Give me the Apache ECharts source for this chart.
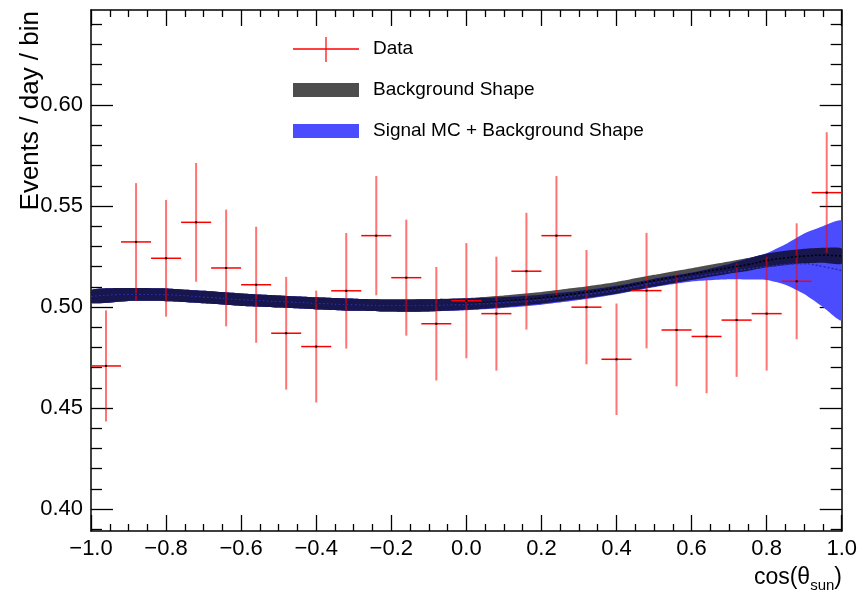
<!DOCTYPE html>
<html>
<head>
<meta charset="utf-8">
<script src="https://cdn.jsdelivr.net/npm/echarts@6/dist/echarts.min.js"></script>
<style>
html, body { margin: 0; padding: 0; background: #fff; }
#chart { width: 860px; height: 590px; }
</style>
</head>
<body>
<div id="chart"></div>
<script>
// data points (rate per bin) with stat errors
var binCenters = [-0.96, -0.88, -0.80, -0.72, -0.64, -0.56, -0.48, -0.40, -0.32, -0.24, -0.16, -0.08, 0.00,
                  0.08, 0.16, 0.24, 0.32, 0.40, 0.48, 0.56, 0.64, 0.72, 0.80, 0.88, 0.96];
var binHalfWidth = 0.04;
var dataRate = [0.4708, 0.5322, 0.5241, 0.5419, 0.5193, 0.5110, 0.4870, 0.4804, 0.5080, 0.5353, 0.5145, 0.4917, 0.5031,
                0.4967, 0.5177, 0.5353, 0.4999, 0.4741, 0.5081, 0.4886, 0.4854, 0.4935, 0.4967, 0.5127, 0.5566];
var dataErr = [0.0275, 0.0291, 0.0289, 0.0294, 0.0289, 0.0287, 0.0279, 0.0277, 0.0286, 0.0295, 0.0287, 0.0281, 0.0285,
               0.0282, 0.0289, 0.0295, 0.0283, 0.0276, 0.0286, 0.0279, 0.0281, 0.0281, 0.0282, 0.0287, 0.0299];

// shape bands (central value and half width)
var shapeX    = [-1.0, -0.9, -0.8, -0.7, -0.6, -0.5, -0.4, -0.3, -0.2, -0.1, 0.0, 0.1, 0.2, 0.3, 0.4, 0.5, 0.6, 0.7, 0.75, 0.8, 0.85, 0.9, 0.95, 1.0];
var bgCenter  = [0.5052, 0.5062, 0.5060, 0.5049, 0.5036, 0.5027, 0.5018, 0.5011, 0.5007, 0.5008, 0.5015, 0.5028, 0.5045, 0.5068, 0.5095, 0.5130, 0.5163, 0.5195, 0.5210, 0.5230, 0.5243, 0.5252, 0.5256, 0.5252];
var bgErr     = [0.0032, 0.0032, 0.0032, 0.0031, 0.0031, 0.0030, 0.0030, 0.0030, 0.0030, 0.0030, 0.0029, 0.0029, 0.0029, 0.0029, 0.0029, 0.0029, 0.0029, 0.0030, 0.0032, 0.0034, 0.0035, 0.0036, 0.0037, 0.0038];
var sigCenter = [0.5052, 0.5062, 0.5060, 0.5049, 0.5036, 0.5027, 0.5018, 0.5011, 0.5007, 0.5008, 0.5013, 0.5022, 0.5036, 0.5057, 0.5084, 0.5119, 0.5148, 0.5175, 0.5188, 0.5200, 0.5210, 0.5214, 0.5200, 0.5180];
var sigErr    = [0.0032, 0.0032, 0.0032, 0.0031, 0.0031, 0.0030, 0.0030, 0.0030, 0.0030, 0.0030, 0.0029, 0.0027, 0.0025, 0.0023, 0.0021, 0.0021, 0.0022, 0.0038, 0.0052, 0.0066, 0.0100, 0.0150, 0.0200, 0.0245];

var yMajorTicks = [0.40, 0.45, 0.50, 0.55, 0.60];
var yMinorTicks = [0.39, 0.41, 0.42, 0.43, 0.44, 0.46, 0.47, 0.48, 0.49, 0.51, 0.52, 0.53, 0.54,
                   0.56, 0.57, 0.58, 0.59, 0.61, 0.62, 0.63, 0.64];

var FONT = '"Liberation Sans", Arial, Helvetica, sans-serif';
var yMin = 0.3891, yMax = 0.6470;

// band edges, and the region where both bands overlap (drawn darker, like ROOT's transparent fill)
var bgLow = [], bgHigh = [], sigLow = [], sigHigh = [], ovLow = [], ovHigh = [];
shapeX.forEach(function (x, i) {
    bgLow.push(bgCenter[i] - bgErr[i]);  bgHigh.push(bgCenter[i] + bgErr[i]);
    sigLow.push(sigCenter[i] - sigErr[i]); sigHigh.push(sigCenter[i] + sigErr[i]);
    ovLow.push(Math.max(bgLow[i], sigLow[i]));
    ovHigh.push(Math.min(bgHigh[i], sigHigh[i]));
});

var chart = echarts.init(document.getElementById('chart'));

function band(low, high, color) {
    return {
        type: 'custom',
        silent: true,
        clip: true,
        data: [[shapeX[0], low[0]]],
        renderItem: function (params, api) {
            var upper = [], lower = [];
            for (var i = 0; i < shapeX.length; i++) {
                upper.push(api.coord([shapeX[i], high[i]]));
                lower.unshift(api.coord([shapeX[i], low[i]]));
            }
            return {
                type: 'polygon',
                shape: { points: upper.concat(lower), smooth: 0.2 },
                style: { fill: color }
            };
        }
    };
}

function xLabel(v) {
    if (Math.abs(v) < 1e-9) return '0.0';
    return v.toFixed(1).replace('-', '\u2212');
}

function yAxisDef(pos, ticks, len, showLine, showLabel) {
    return {
        type: 'value', position: pos, offset: 0, min: yMin, max: yMax,
        axisLine: { show: showLine, onZero: false, lineStyle: { color: '#000', width: 1.5 } },
        axisTick: { show: true, inside: true, length: len, customValues: ticks, lineStyle: { color: '#000', width: 1.3 } },
        axisLabel: { show: showLabel, customValues: ticks, margin: 8, fontSize: 22, color: '#000', fontFamily: FONT,
                     formatter: function (v) { return v.toFixed(2); } },
        splitLine: { show: false }
    };
}

function xAxisDef(pos, showLabel) {
    return {
        type: 'value', position: pos, min: -1, max: 1, interval: 0.2,
        axisLine: { show: true, onZero: false, lineStyle: { color: '#000', width: 1.5 } },
        axisTick: { show: true, inside: true, length: 16, lineStyle: { color: '#000', width: 1.3 } },
        minorTick: { show: true, splitNumber: 4, length: 7, lineStyle: { color: '#000', width: 1.3 } },
        axisLabel: { show: showLabel, margin: 7, fontSize: 22, color: '#000', fontFamily: FONT, formatter: xLabel },
        splitLine: { show: false }
    };
}

var option = {
    animation: false,
    backgroundColor: '#fff',
    grid: { left: 91, right: 18, top: 10, bottom: 59 },
    xAxis: [xAxisDef('bottom', true), xAxisDef('top', false)],
    yAxis: [
        yAxisDef('left', yMajorTicks, 22, true, true),
        yAxisDef('left', yMinorTicks, 11, false, false),
        yAxisDef('right', yMajorTicks, 22, true, false),
        yAxisDef('right', yMinorTicks, 11, false, false)
    ],
    series: [
        band(bgLow, bgHigh, '#4d4d4d'),
        band(sigLow, sigHigh, '#4c4cff'),
        band(ovLow, ovHigh, '#17174d'),
        {
            type: 'line', silent: true, symbol: 'none', smooth: true,
            data: shapeX.map(function (x, i) { return [x, bgCenter[i]]; }),
            lineStyle: { color: '#000', width: 1.5, type: [2, 2] }
        },
        {
            type: 'line', silent: true, symbol: 'none', smooth: true,
            data: shapeX.map(function (x, i) { return [x, sigCenter[i]]; }),
            lineStyle: { color: '#2a2ab0', width: 1.5, type: [2, 2] }
        },
        {
            type: 'custom', name: 'Data', silent: true,
            data: binCenters.map(function (x, i) { return [x, dataRate[i], dataErr[i]]; }),
            renderItem: function (params, api) {
                var x = api.value(0), y = api.value(1), e = api.value(2);
                var top = api.coord([x, y + e]), bot = api.coord([x, y - e]);
                var l = api.coord([x - binHalfWidth, y]), r = api.coord([x + binHalfWidth, y]);
                var c = api.coord([x, y]);
                return {
                    type: 'group',
                    children: [
                        { type: 'line', shape: { x1: top[0], y1: top[1], x2: bot[0], y2: bot[1] },
                          style: { stroke: 'rgba(255,0,0,0.55)', lineWidth: 2 } },
                        { type: 'line', shape: { x1: l[0], y1: l[1], x2: r[0], y2: r[1] },
                          style: { stroke: '#ff0000', lineWidth: 1.5 } },
                        { type: 'rect', shape: { x: c[0] - 1, y: c[1] - 1, width: 2, height: 2 },
                          style: { fill: '#000' } }
                    ]
                };
            }
        }
    ],
    graphic: [
        // legend
        { type: 'line', shape: { x1: 293, y1: 49, x2: 359, y2: 49 }, style: { stroke: '#ff0000', lineWidth: 1.5 } },
        { type: 'line', shape: { x1: 326, y1: 37, x2: 326, y2: 62 }, style: { stroke: 'rgba(255,0,0,0.6)', lineWidth: 2 } },
        { type: 'text', x: 373, y: 49, style: { text: 'Data', font: '19px ' + FONT, fill: '#000', verticalAlign: 'middle' } },
        { type: 'rect', shape: { x: 293, y: 83, width: 66, height: 14 }, style: { fill: '#4d4d4d' } },
        { type: 'text', x: 373, y: 90, style: { text: 'Background Shape', font: '19px ' + FONT, fill: '#000', verticalAlign: 'middle' } },
        { type: 'rect', shape: { x: 293, y: 124, width: 66, height: 14 }, style: { fill: '#4c4cff' } },
        { type: 'text', x: 373, y: 131, style: { text: 'Signal MC + Background Shape', font: '19px ' + FONT, fill: '#000', verticalAlign: 'middle' } },
        // axis titles
        { type: 'text', x: 31, y: 11, rotation: Math.PI / 2,
          style: { text: 'Events / day / bin', font: '26px ' + FONT, fill: '#000', align: 'right', verticalAlign: 'middle' } },
        { type: 'text', x: 842, y: 578,
          style: { text: '{a|cos(\u03b8}{b|sun}{a|)}', align: 'right', verticalAlign: 'middle', fill: '#000',
                   rich: { a: { fontSize: 23, fontFamily: FONT, lineHeight: 30, verticalAlign: 'middle' },
                           b: { fontSize: 15, fontFamily: FONT, lineHeight: 30, verticalAlign: 'bottom' } } } }
    ]
};

chart.setOption(option);
</script>
</body>
</html>
